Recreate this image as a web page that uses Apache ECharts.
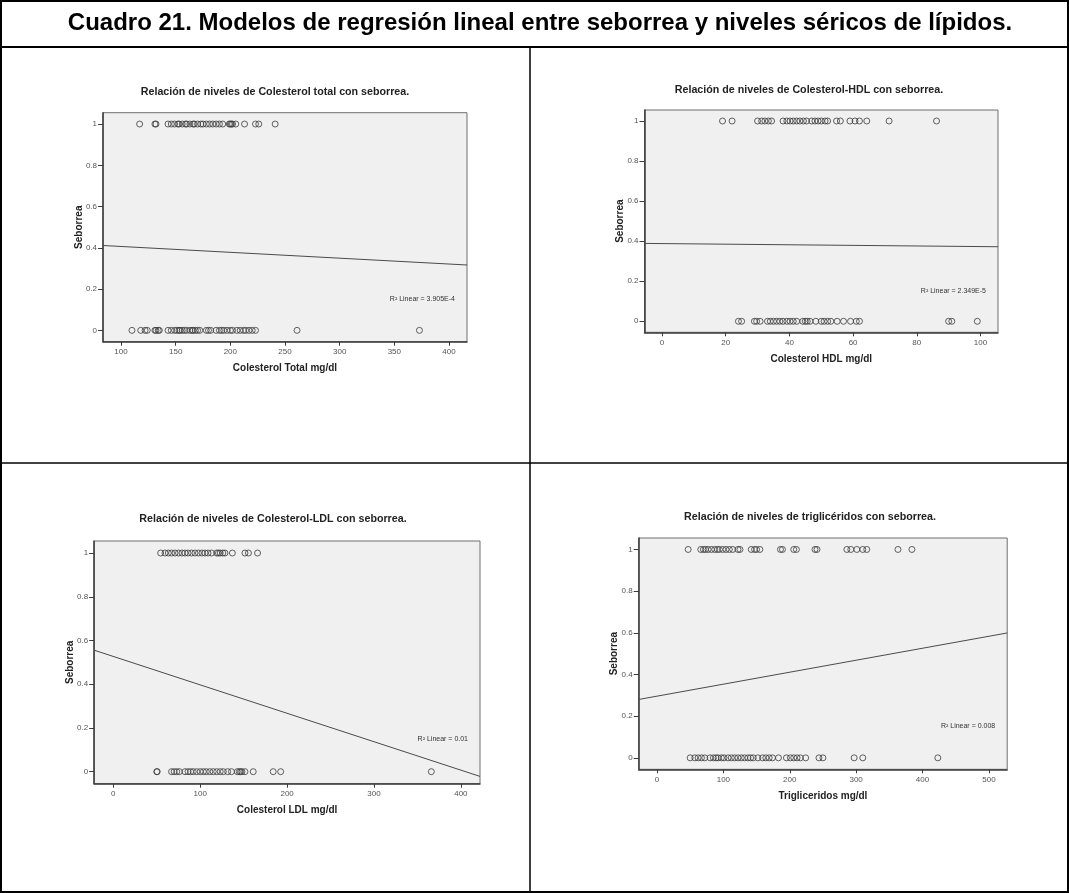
<!DOCTYPE html>
<html>
<head>
<meta charset="utf-8">
<script src="https://cdn.jsdelivr.net/npm/echarts@6/dist/echarts.min.js"></script>
<style>
  html, body { margin: 0; padding: 0; background: #ffffff; }
  #chart { width: 1069px; height: 893px; }
</style>
</head>
<body>
<div id="chart"></div>
<script>
// ---- Data: lipid levels (mg/dl) of patients with seborrea = 1 and seborrea = 0 ----
const totalSeb1 = [117, 131, 132, 143, 146, 149, 152, 153, 156, 159, 160, 163, 166, 167, 170, 173, 175, 178, 181, 184, 187, 190, 193, 199, 200, 201, 202, 205, 213, 223, 226, 241];
const totalSeb0 = [110, 118, 122, 124, 131, 132, 134, 135, 143, 146, 149, 151, 153, 154, 156, 158, 160, 163, 165, 166, 168, 170, 172, 178, 180, 182, 187, 190, 192, 194, 197, 200, 202, 206, 209, 212, 214, 217, 220, 223, 261, 373];

const hdlSeb1 = [19, 22, 30, 31.3, 32.3, 33.4, 34.4, 38, 39.2, 40.2, 41.2, 42.3, 43.3, 44.4, 45.4, 47, 48, 49, 50, 51.2, 52, 54.8, 56, 59, 60.6, 62, 64.3, 71.3, 86.2];
const hdlSeb0 = [24, 25, 29, 29.7, 30.8, 33.1, 34, 35, 36, 37, 38, 39.2, 40.2, 41.2, 42.3, 44.2, 45, 45.6, 46.5, 48.3, 50, 50.9, 52, 53, 55, 57, 59.2, 61, 62, 90, 91, 99];

const ldlSeb1 = [54.5, 59.5, 63.3, 67, 71, 75, 79, 82.5, 86, 90, 94, 98, 102, 105.5, 109, 113, 119, 121, 123, 126, 128.5, 137, 151.5, 155.5, 166];
const ldlSeb0 = [50, 50.5, 67, 70, 73, 76, 82.5, 86, 89, 92, 96, 100, 103.6, 107, 111, 115, 119, 123, 126.6, 131.6, 136, 142.7, 145, 146.5, 148, 151.5, 161, 184, 192.6, 366];

const trigSeb1 = [47, 66, 70, 73, 77, 82, 87, 91, 94, 99, 104, 109, 114, 122, 125, 142, 147, 150, 155, 186, 189, 206, 210, 238, 241, 286, 292, 301, 310, 316, 363, 384];
const trigSeb0 = [50, 57, 62, 67, 72, 80, 85, 89, 92, 97, 101, 107, 112, 117, 122, 127, 132, 137, 141, 145, 152, 159, 164, 169, 174, 183, 195, 201, 206, 211, 216, 224, 244, 250, 297, 310, 423];

// Fitted lines: [intercept, slope]
const fitTotal = [0.435, -0.000284];
const fitHdl = [0.388, -0.00015];
const fitLdl = [0.527, -0.0013];
const fitTrig = [0.296, 0.000575];

// R-squared values
const r2Labels = ['3.905E-4', '2.349E-5', '0.01', '0.008'];

// Axis tick labels
const yTicks = [0, 0.2, 0.4, 0.6, 0.8, 1];
const totalTicks = [100, 150, 200, 250, 300, 350, 400];
const hdlTicks = [0, 20, 40, 60, 80, 100];
const ldlTicks = [0, 100, 200, 300, 400];
const trigTicks = [0, 100, 200, 300, 400, 500];

const mainTitle = 'Cuadro 21. Modelos de regresión lineal entre seborrea y niveles séricos de lípidos.';
const panelTitles = [
  'Relación de niveles de Colesterol total con seborrea.',
  'Relación de niveles de Colesterol-HDL con seborrea.',
  'Relación de niveles de Colesterol-LDL con seborrea.',
  'Relación de niveles de triglicéridos con seborrea.'
];
const xNames = ['Colesterol Total mg/dl', 'Colesterol HDL mg/dl', 'Colesterol LDL mg/dl', 'Trigliceridos mg/dl'];
const yName = 'Seborrea';

// ---- Layout ----
const FONT = '"Liberation Sans", Arial, Helvetica, sans-serif';
// Each axis spans its rounded range plus 5.5% padding on both sides
const PAD = 0.055;
const padded = (lo, hi) => [lo - (hi - lo) * PAD, hi + (hi - lo) * PAD];
const panels = [
  { grid: { left: 103, top: 112.7, width: 364, height: 229 }, range: padded(100, 400), ticks: totalTicks, s1: totalSeb1, s0: totalSeb0, fit: fitTotal, title: [270, 82] },
  { grid: { left: 644.5, top: 110, width: 353.5, height: 222.3 }, range: padded(0, 100), ticks: hdlTicks, s1: hdlSeb1, s0: hdlSeb0, fit: fitHdl, title: [804, 80] },
  { grid: { left: 94.2, top: 541, width: 385.8, height: 242.7 }, range: padded(0, 400), ticks: ldlTicks, s1: ldlSeb1, s0: ldlSeb0, fit: fitLdl, title: [268, 509] },
  { grid: { left: 638.7, top: 538, width: 368.5, height: 231.3 }, range: padded(0, 500), ticks: trigTicks, s1: trigSeb1, s0: trigSeb0, fit: fitTrig, title: [805, 507] }
];
const yRange = padded(0, 1);

const grids = [], xAxes = [], yAxes = [], series = [], titles = [], graphics = [];

const tickLabel = { fontSize: 8, color: '#555555', fontFamily: FONT };
const axisName = { fontSize: 10, fontWeight: 'bold', color: '#222222', fontFamily: FONT };

panels.forEach((p, i) => {
  const g = p.grid;
  const [xMin, xMax] = p.range;
  grids.push(Object.assign({
    show: true, backgroundColor: '#f0f0f0', borderColor: '#6e6e6e', borderWidth: 1, containLabel: false
  }, g));

  xAxes.push({
    gridIndex: i, type: 'value', min: xMin, max: xMax,
    name: xNames[i], nameLocation: 'middle', nameGap: 22, nameMoveOverlap: false, nameTextStyle: axisName,
    axisLine: { show: true, onZero: false, lineStyle: { color: '#3a3a3a', width: 1.5 } },
    axisTick: { show: true, length: 4, customValues: p.ticks, lineStyle: { color: '#3a3a3a', width: 1 } },
    axisLabel: Object.assign({ margin: 6, customValues: p.ticks, formatter: v => String(v) }, tickLabel),
    splitLine: { show: false }
  });

  yAxes.push({
    gridIndex: i, type: 'value', min: yRange[0], max: yRange[1],
    name: yName, nameLocation: 'middle', nameGap: 19, nameRotate: 90, nameMoveOverlap: false, nameTextStyle: axisName,
    axisLine: { show: true, onZero: false, lineStyle: { color: '#3a3a3a', width: 1.5 } },
    axisTick: { show: true, length: 5, customValues: yTicks, lineStyle: { color: '#3a3a3a', width: 1 } },
    axisLabel: Object.assign({ margin: 6, customValues: yTicks, formatter: v => String(v) }, tickLabel),
    splitLine: { show: false }
  });

  const pointStyle = { color: 'rgba(0,0,0,0)', borderColor: '#3c3c3c', borderWidth: 1 };
  series.push({
    type: 'scatter', xAxisIndex: i, yAxisIndex: i, symbol: 'circle', symbolSize: 6,
    itemStyle: pointStyle, silent: true,
    data: p.s1.map(v => [v, 1]).concat(p.s0.map(v => [v, 0]))
  });

  const f = x => p.fit[0] + p.fit[1] * x;
  series.push({
    type: 'line', xAxisIndex: i, yAxisIndex: i, symbol: 'none', silent: true,
    lineStyle: { color: '#4a4a4a', width: 1 },
    data: [[xMin, f(xMin)], [xMax, f(xMax)]]
  });

  titles.push({
    text: panelTitles[i], left: p.title[0], top: p.title[1], textAlign: 'center',
    textStyle: { fontSize: 10.7, fontWeight: 'bold', color: '#222222', fontFamily: FONT }
  });

  // R-squared note, right-aligned inside the lower right of the plot
  graphics.push({
    type: 'text', x: g.left + g.width - 12, y: g.top + g.height * 0.815, silent: true,
    style: {
      text: 'R² Linear = ' + r2Labels[i],
      align: 'right', verticalAlign: 'middle',
      font: '7px ' + FONT, fill: '#333333'
    }
  });
});

// Table frame
const line = (x1, y1, x2, y2, w) => ({
  type: 'line', silent: true, shape: { x1, y1, x2, y2 }, style: { stroke: '#000000', lineWidth: w }
});
graphics.push(
  line(0, 1, 1069, 1, 2),
  line(1, 0, 1, 893, 2),
  line(1068, 0, 1068, 893, 2),
  line(0, 892, 1069, 892, 2),
  line(0, 47, 1069, 47, 2),
  line(0, 463, 1069, 463, 1.5),
  line(530, 47, 530, 893, 1.5)
);
graphics.push({
  type: 'text', x: 540, y: 23, silent: true,
  style: {
    text: mainTitle, align: 'center', verticalAlign: 'middle',
    font: 'bold 24px ' + FONT, fill: '#000000'
  }
});

const chart = echarts.init(document.getElementById('chart'), null, { renderer: 'canvas' });
chart.setOption({
  animation: false,
  backgroundColor: '#ffffff',
  title: titles,
  grid: grids,
  xAxis: xAxes,
  yAxis: yAxes,
  series: series,
  graphic: graphics
});
</script>
</body>
</html>
